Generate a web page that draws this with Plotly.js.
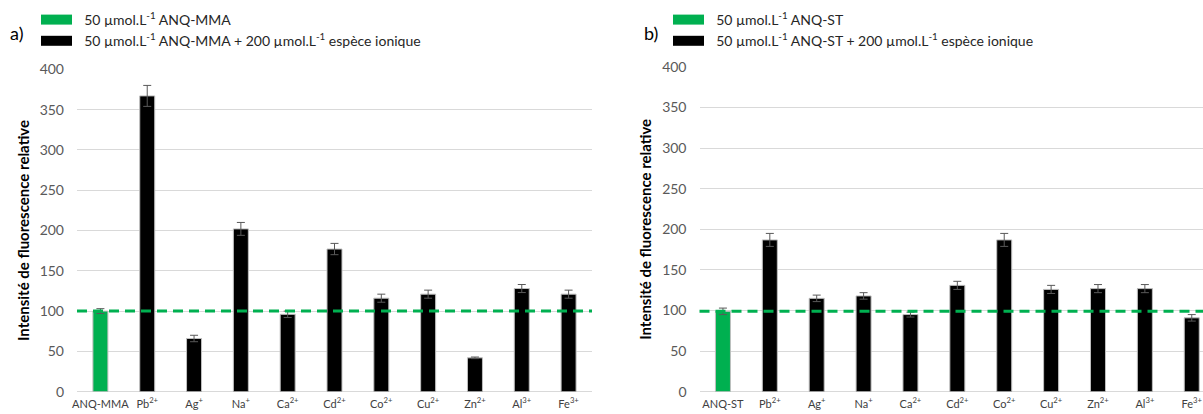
<!DOCTYPE html>
<html>
<head>
<meta charset="utf-8">
<script src="https://cdn.plot.ly/plotly-3.0.1.min.js"></script>
<style>html,body{margin:0;padding:0;background:#fff;}#chart{width:1203px;height:414px;}</style>
</head>
<body>
<div id="chart"></div>
<script>
// ---- Data ----
const ionLabels = ['Pb<sup>2+</sup>','Ag<sup>+</sup>','Na<sup>+</sup>','Ca<sup>2+</sup>','Cd<sup>2+</sup>','Co<sup>2+</sup>','Cu<sup>2+</sup>','Zn<sup>2+</sup>','Al<sup>3+</sup>','Fe<sup>3+</sup>'];

// Panel a) ANQ-MMA
const ctrlLabelA = 'ANQ-MMA';
const ctrlValueA = [100];
const ctrlErrA = [3];
const ionValuesA = [367, 66, 202, 96, 177, 116, 121, 42, 128, 121];
const ionErrA = [13, 4, 8, 4, 7, 5, 5, 1, 5, 5];
const refLevelA = 100;

// Panel b) ANQ-ST
const ctrlLabelB = 'ANQ-ST';
const ctrlValueB = [99];
const ctrlErrB = [4];
const ionValuesB = [187, 115, 118, 95, 131, 187, 126, 127, 127, 91];
const ionErrB = [8, 4, 4, 3, 5, 8, 5, 5, 5, 4];
const refLevelB = 99;

const legendCtrlA = '50 µmol.L<sup>-1</sup> ANQ-MMA';
const legendIonA = '50 µmol.L<sup>-1</sup> ANQ-MMA + 200 µmol.L<sup>-1</sup> espèce ionique';
const legendCtrlB = '50 µmol.L<sup>-1</sup> ANQ-ST';
const legendIonB = '50 µmol.L<sup>-1</sup> ANQ-ST + 200 µmol.L<sup>-1</sup> espèce ionique';
const yTitle = 'Intensité de fluorescence relative';

// ---- Styling ----
const GREEN = '#00b050';
const FONT = 'Lato, sans-serif';
const W = 1203, H = 414;
const barW = 0.32;
const errStyle = {type:'data', thickness:1, width:4, color:'#595959', visible:true};
const PAD = '\u00a0\u00a0';

function bar(x, y, err, color, group, xa, ya) {
  return {
    type:'bar', x:x, y:y, width:barW, showlegend:false, legendgroup:group,
    xaxis:xa, yaxis:ya,
    marker:{color:color, line:{color:'#bfbfbf', width:1}},
    error_y:Object.assign({array:err}, errStyle),
    hoverinfo:'skip'
  };
}
// legend entries drawn as wide swatches (same series, legend only)
function swatch(color, name, group, xa, ya, lg) {
  return {
    type:'scatter', mode:'lines', x:[null], y:[null], name:PAD + name, legendgroup:group,
    xaxis:xa, yaxis:ya, legend:lg, showlegend:true,
    line:{color:color, width:12}, hoverinfo:'skip'
  };
}

const traces = [
  bar([ctrlLabelA], ctrlValueA, ctrlErrA, GREEN, 'ca', 'x', 'y'),
  bar(ionLabels, ionValuesA, ionErrA, '#000000', 'ia', 'x', 'y'),
  bar([ctrlLabelB], ctrlValueB, ctrlErrB, GREEN, 'cb', 'x2', 'y2'),
  bar(ionLabels, ionValuesB, ionErrB, '#000000', 'ib', 'x2', 'y2'),
  swatch(GREEN, legendCtrlA, 'ca', 'x', 'y', 'legend'),
  swatch('#000000', legendIonA, 'ia', 'x', 'y', 'legend'),
  swatch(GREEN, legendCtrlB, 'cb', 'x2', 'y2', 'legend2'),
  swatch('#000000', legendIonB, 'ib', 'x2', 'y2', 'legend2')
];

const tickFontX = {family:FONT, size:11, color:'#404040'};
const tickFontY = {family:FONT, size:14, color:'#595959'};
const titleFont = {family:FONT, size:15, color:'#000000', weight:'bold'};

function xaxis(domain, cats, range, anchor) {
  return {
    domain:domain, anchor:anchor, type:'category', categoryorder:'array', categoryarray:cats,
    range:range, showgrid:false, showline:false, zeroline:false, ticks:'',
    tickfont:tickFontX, automargin:false, fixedrange:true, ticklabelstandoff:4
  };
}
function yaxis(domain, anchor) {
  return {
    domain:domain, anchor:anchor, range:[0,400], dtick:50, tick0:0,
    showgrid:true, gridcolor:'#d9d9d9', gridwidth:1,
    zeroline:true, zerolinecolor:'#d9d9d9', zerolinewidth:1,
    showline:false, ticks:'', tickfont:tickFontY, automargin:false,
    ticklabelstandoff:12, fixedrange:true,
    title:{text:yTitle, font:titleFont, standoff:6}
  };
}

const catsA = [ctrlLabelA].concat(ionLabels);
const catsB = [ctrlLabelB].concat(ionLabels);

const legendBase = {xanchor:'left', yanchor:'top', bgcolor:'rgba(0,0,0,0)',
  borderwidth:0, itemwidth:31, font:{family:FONT, size:14, color:'#262626'},
  traceorder:'normal', itemclick:false, itemdoubleclick:false};

const layout = {
  width:W, height:H,
  margin:{l:0, r:0, t:0, b:0, pad:0},
  paper_bgcolor:'#ffffff', plot_bgcolor:'#ffffff',
  barmode:'overlay',
  showlegend:true,
  font:{family:FONT, color:'#262626'},
  xaxis: xaxis([77/W, 592/W], catsA, [-0.5, 10.5], 'y'),
  yaxis: yaxis([1-391.7/H, 1-69.3/H], 'x'),
  xaxis2: xaxis([699.5/W, 1], catsB, [-0.5, 10.24], 'y2'),
  yaxis2: yaxis([1-391.7/H, 1-67/H], 'x2'),
  legend: Object.assign({x:36/W, y:1-4/H}, legendBase),
  legend2: Object.assign({x:668/W, y:1-4/H}, legendBase),
  shapes:[
    {type:'line', xref:'x domain', x0:0, x1:1, yref:'y', y0:refLevelA, y1:refLevelA,
     line:{color:GREEN, width:3, dash:'10px,6px'}, layer:'above'},
    {type:'line', xref:'x2 domain', x0:0, x1:1, yref:'y2', y0:refLevelB, y1:refLevelB,
     line:{color:GREEN, width:3, dash:'10px,6px'}, layer:'above'}
  ],
  annotations:[
    {text:'a)', xref:'paper', yref:'paper', x:8/W, y:1-33/H, xanchor:'left', yanchor:'middle',
     showarrow:false, font:{family:FONT, size:18, color:'#000000'}},
    {text:'b)', xref:'paper', yref:'paper', x:642/W, y:1-33/H, xanchor:'left', yanchor:'middle',
     showarrow:false, font:{family:FONT, size:18, color:'#000000'}}
  ]
};

Plotly.newPlot('chart', traces, layout, {displayModeBar:false});
</script>
</body>
</html>
